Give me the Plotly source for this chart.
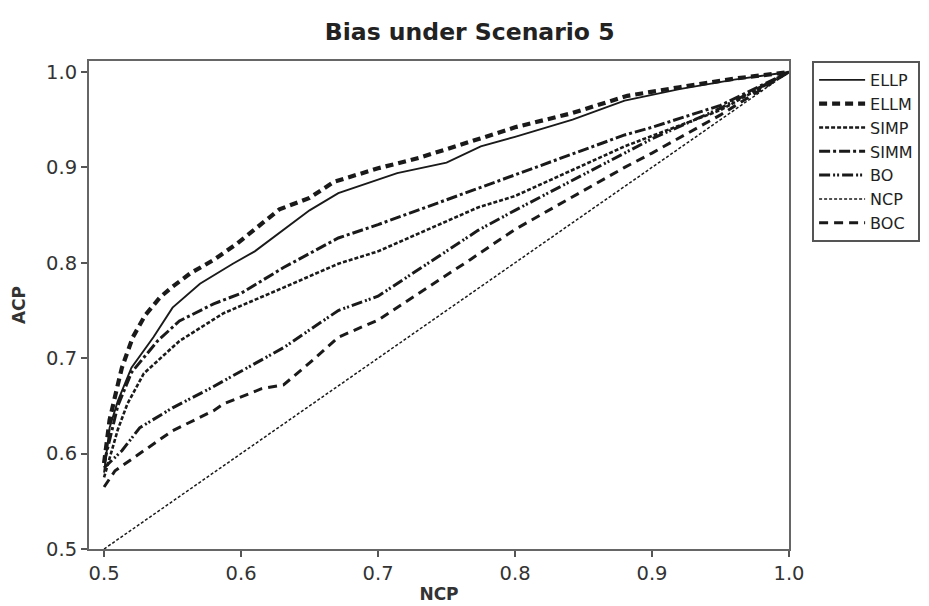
import plotly.graph_objects as go

# ---- data ----
ellp_x = [0.5, 0.504, 0.51, 0.52, 0.536, 0.55, 0.57, 0.594, 0.61, 0.628, 0.65, 0.671, 0.7, 0.714, 0.75, 0.775, 0.8, 0.842, 0.88, 0.92, 0.96, 1.0]
ellp_y = [0.58, 0.627, 0.655, 0.69, 0.722, 0.753, 0.778, 0.799, 0.812, 0.831, 0.855, 0.873, 0.887, 0.894, 0.905, 0.922, 0.932, 0.950, 0.970, 0.982, 0.992, 1.0]

ellm_x = [0.5, 0.504, 0.509, 0.513, 0.521, 0.53, 0.541, 0.55, 0.563, 0.58, 0.597, 0.609, 0.628, 0.65, 0.668, 0.7, 0.73, 0.774, 0.8, 0.842, 0.882, 0.92, 0.96, 1.0]
ellm_y = [0.59, 0.635, 0.666, 0.69, 0.722, 0.745, 0.764, 0.775, 0.789, 0.803, 0.82, 0.834, 0.856, 0.868, 0.885, 0.899, 0.910, 0.930, 0.942, 0.957, 0.975, 0.984, 0.993, 1.0]

simp_x = [0.5, 0.51, 0.517, 0.529, 0.555, 0.587, 0.631, 0.671, 0.7, 0.773, 0.8, 0.88, 0.9, 0.95, 1.0]
simp_y = [0.575, 0.625, 0.652, 0.684, 0.718, 0.747, 0.774, 0.799, 0.812, 0.858, 0.870, 0.922, 0.933, 0.960, 1.0]

simm_x = [0.5, 0.51, 0.52, 0.539, 0.555, 0.58, 0.6, 0.631, 0.671, 0.7, 0.773, 0.8, 0.88, 0.9, 0.95, 1.0]
simm_y = [0.59, 0.65, 0.685, 0.718, 0.739, 0.757, 0.768, 0.795, 0.826, 0.840, 0.878, 0.892, 0.934, 0.942, 0.965, 1.0]

bo_x = [0.5, 0.513, 0.526, 0.55, 0.577, 0.587, 0.631, 0.671, 0.7, 0.773, 0.8, 0.88, 0.9, 0.95, 1.0]
bo_y = [0.585, 0.603, 0.627, 0.648, 0.668, 0.676, 0.711, 0.750, 0.765, 0.834, 0.855, 0.915, 0.930, 0.962, 1.0]

ncp_x = [0.5, 1.0]
ncp_y = [0.5, 1.0]

boc_x = [0.5, 0.508, 0.55, 0.58, 0.587, 0.615, 0.631, 0.65, 0.671, 0.7, 0.767, 0.8, 0.88, 0.9, 0.95, 1.0]
boc_y = [0.565, 0.582, 0.624, 0.645, 0.652, 0.668, 0.672, 0.695, 0.722, 0.740, 0.803, 0.835, 0.900, 0.915, 0.955, 1.0]

series = [
    ("ELLP", ellp_x, ellp_y, "solid", 1.9),
    ("ELLM", ellm_x, ellm_y, "8px,5px", 4.2),
    ("SIMP", simp_x, simp_y, "4px,2px", 2.6),
    ("SIMM", simm_x, simm_y, "11px,3px,3px,3px", 3.0),
    ("BO", bo_x, bo_y, "11px,3px,2px,2px,2px,3px", 3.0),
    ("NCP", ncp_x, ncp_y, "3px,2px", 1.5),
    ("BOC", boc_x, boc_y, "9px,6px", 3.0),
]

x_ticks = [0.5, 0.6, 0.7, 0.8, 0.9, 1.0]
y_ticks = [0.5, 0.6, 0.7, 0.8, 0.9, 1.0]

fig = go.Figure()
for name, xs, ys, dash, w in series:
    fig.add_trace(go.Scatter(
        x=xs, y=ys, mode="lines", name=name, legendgroup=name,
        line=dict(color="#1a1a1a", width=w, dash=dash),
    ))

font_main = "DejaVu Sans, sans-serif"
fig.update_layout(
    width=929, height=606,
    margin=dict(l=81, r=148, t=53, b=65, autoexpand=False),
    paper_bgcolor="white", plot_bgcolor="white",
    font=dict(family=font_main, color="#333333", size=19.5),
    title=dict(text="<b>Bias under Scenario 5</b>", xref="container", x=0.497, xanchor="center",
               yref="container", y=0.9604, yanchor="middle",
               font=dict(family="DejaVu Sans, sans-serif", size=23.5, color="#222222")),
    showlegend=True,
    legend=dict(x=1.033, xanchor="left", y=1.0, yanchor="top",
                bordercolor="#555555", borderwidth=2, bgcolor="white",
                font=dict(size=16, color="#222222", family="DejaVu Sans, sans-serif"),
                itemwidth=46, tracegroupgap=2, traceorder="normal"),
)
fig.update_xaxes(
    range=[0.489, 1.0], tickvals=x_ticks, ticktext=[f"{v:.1f}" for v in x_ticks],
    showgrid=False, zeroline=False, showline=True, linecolor="#666666", linewidth=2,
    mirror=True, ticks="outside", ticklen=6, tickwidth=1.5, tickcolor="#555555",
    automargin=False,
    title=dict(text="<b>NCP</b>", standoff=4, font=dict(size=17, family="DejaVu Sans, sans-serif")),
)
fig.update_yaxes(
    range=[0.5, 1.0115], tickvals=y_ticks, ticktext=[f"{v:.1f}" for v in y_ticks],
    showgrid=False, zeroline=False, showline=True, linecolor="#666666", linewidth=2,
    mirror=True, ticks="outside", ticklen=6, tickwidth=1.5, tickcolor="#555555",
    automargin=False,
    title=dict(text="<b>ACP</b>", standoff=16, font=dict(size=17, family="DejaVu Sans, sans-serif")),
)

fig.write_html("out.html")
